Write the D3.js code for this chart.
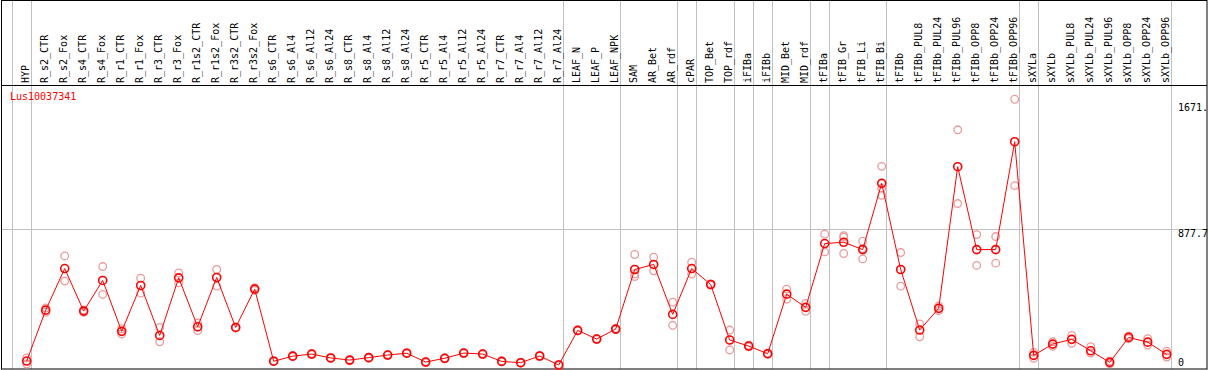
<!DOCTYPE html>
<html>
<head>
<meta charset="utf-8">
<script src="https://cdn.jsdelivr.net/npm/d3@7"></script>
<style>
    body { margin: 0; background: #fff; }
    text { font-family: "DejaVu Sans Mono", monospace; font-size: 10px; }
</style>
</head>
<body>
<div id="chart"></div>
<script>
// Sample names along the x axis
const categories = [
    "HYP", "R_s2_CTR", "R_s2_Fox", "R_s4_CTR", "R_s4_Fox", "R_r1_CTR", "R_r1_Fox",
    "R_r3_CTR", "R_r3_Fox", "R_r1s2_CTR", "R_r1s2_Fox", "R_r3s2_CTR", "R_r3s2_Fox",
    "R_s6_CTR", "R_s6_Al4", "R_s6_Al12", "R_s6_Al24", "R_s8_CTR", "R_s8_Al4", "R_s8_Al12",
    "R_s8_Al24", "R_r5_CTR", "R_r5_Al4", "R_r5_Al12", "R_r5_Al24", "R_r7_CTR", "R_r7_Al4",
    "R_r7_Al12", "R_r7_Al24", "LEAF_N", "LEAF_P", "LEAF_NPK", "SAM", "AR_Bet", "AR_rdf",
    "cPAR", "TOP_Bet", "TOP_rdf", "iFIBa", "iFIBb", "MID_Bet", "MID_rdf", "tFIBa",
    "tFIB_Gr", "tFIB_Li", "tFIB_Bi", "tFIBb", "tFIBb_PUL8", "tFIBb_PUL24", "tFIBb_PUL96",
    "tFIBb_OPP8", "tFIBb_OPP24", "tFIBb_OPP96", "sXYLa", "sXYLb", "sXYLb_PUL8",
    "sXYLb_PUL24", "sXYLb_PUL96", "sXYLb_OPP8", "sXYLb_OPP24", "sXYLb_OPP96"
];

// Mean expression per sample (the red line)
const meanValues = [
    67, 379, 634, 373, 561, 249, 530, 224, 577, 277, 579, 273, 508,
    66, 97, 110, 86, 73, 88, 104, 115, 61, 84, 116, 110, 65, 57, 98, 43,
    255, 202, 263, 628, 659, 353, 634, 536, 196, 159, 112, 477, 396,
    787, 795, 750, 1156, 628, 257, 390, 1258, 750, 750, 1411,
    102, 171, 200, 130, 59, 212, 183, 108
];

// Individual replicates (the faint circles)
const repValues = [
    [86, 49], [392, 366], [711, 557], [380, 366], [646, 475], [265, 233], [575, 483],
    [273, 185], [607, 546], [300, 254], [628, 526], [276, 270], [516, 500],
    [69, 63], [100, 94], [113, 107], [89, 83], [76, 70], [91, 85], [107, 101], [118, 112],
    [64, 58], [87, 81], [119, 113], [113, 107], [68, 62], [60, 54], [101, 95], [46, 40],
    [258, 252], [205, 199], [266, 260], [720, 600, 585], [703, 620], [428, 286],
    [673, 600], [540, 532], [257, 135], [164, 154], [116, 108], [508, 446], [420, 372],
    [844, 736], [835, 826, 726], [801, 756, 693], [1260, 1125, 1083], [732, 526],
    [294, 216], [404, 376], [1484, 1032], [842, 653], [830, 667], [1671, 1142],
    [120, 84], [185, 157], [224, 176], [155, 116], [68, 50], [220, 204], [204, 165], [128, 92]
];

// Last sample of each group; a grey separator is drawn after each
const groupEnds = [
    "HYP", "R_r7_Al24", "LEAF_NPK", "AR_rdf", "cPAR", "TOP_rdf", "iFIBa", "iFIBb",
    "MID_rdf", "tFIBa", "tFIB_Bi", "tFIBb_OPP96", "sXYLa", "sXYLb_OPP96"
];

// Right-hand value labels
const tickValues = [0, 877.7, 1671];
const tickLabels = ["0", "877.7", "1671."];
const gridValues = [877.7];
const yMax = 1755.4;

const geneName = "Lus10037341";

drawChart();

function drawChart() {
    const width = 1209;
    const height = 370;
    const headerBottom = 85.5;
    const plotBottom = 369;

    const svg = d3.select("#chart")
        .append("svg")
        .attr("width", width)
        .attr("height", height);

    // x positions of the samples
    const xScale = d3.scalePoint()
        .domain(categories)
        .range([26.7, 1166.7]);
    const step = xScale.step();

    // y scale, zero sits a little under the bottom frame
    const yScale = d3.scaleLinear()
        .domain([0, yMax])
        .range([372, headerBottom]);

    // Horizontal grid line(s)
    svg.selectAll(".hgrid")
        .data(gridValues)
        .enter()
        .append("line")
        .attr("class", "hgrid")
        .attr("x1", 1)
        .attr("x2", 1207)
        .attr("y1", d => Math.round(yScale(d)) + 0.5)
        .attr("y2", d => Math.round(yScale(d)) + 0.5)
        .attr("stroke", "#c0c0c0")
        .attr("stroke-width", 1);

    // Vertical group separators (run through the header too)
    const sepX = [xScale(categories[0]) - step + 4].concat(groupEnds.map(c => xScale(c) + 4));
    svg.selectAll(".vgrid")
        .data(sepX)
        .enter()
        .append("line")
        .attr("class", "vgrid")
        .attr("x1", d => Math.round(d) + 0.5)
        .attr("x2", d => Math.round(d) + 0.5)
        .attr("y1", 0)
        .attr("y2", plotBottom)
        .attr("stroke", "#c0c0c0")
        .attr("stroke-width", 1);

    // Frame + header divider
    svg.append("rect")
        .attr("x", 1.5)
        .attr("y", 0.5)
        .attr("width", 1205.5)
        .attr("height", plotBottom - 0.5)
        .attr("fill", "none")
        .attr("stroke", "#000")
        .attr("stroke-width", 1);

    svg.append("line")
        .attr("x1", 1)
        .attr("x2", 1207)
        .attr("y1", headerBottom)
        .attr("y2", headerBottom)
        .attr("stroke", "#000")
        .attr("stroke-width", 1);

    // Rotated sample names in the header
    svg.selectAll(".cat-label")
        .data(categories)
        .enter()
        .append("text")
        .attr("class", "cat-label")
        .attr("transform", d => `translate(${xScale(d) + 2.5},83) rotate(-90)`)
        .attr("text-anchor", "start")
        .attr("fill", "#000")
        .text(d => d);

    // Gene id in the top-left corner
    svg.append("text")
        .attr("x", 10)
        .attr("y", 100)
        .attr("fill", "#ff0000")
        .text(geneName);

    // Value labels on the right (hang under their value, kept inside the frame)
    svg.selectAll(".tick-label")
        .data(tickValues)
        .enter()
        .append("text")
        .attr("class", "tick-label")
        .attr("x", 1178)
        .attr("y", d => Math.max(111, Math.min(yScale(d) + 8, 366)))
        .attr("fill", "#000")
        .text((d, i) => tickLabels[i]);

    // Replicate circles
    const reps = [];
    repValues.forEach(function(vals, i) {
        vals.forEach(function(v) {
            reps.push({ cat: categories[i], value: v });
        });
    });

    svg.selectAll(".rep")
        .data(reps)
        .enter()
        .append("circle")
        .attr("class", "rep")
        .attr("cx", d => xScale(d.cat))
        .attr("cy", d => yScale(d.value))
        .attr("r", 3.8)
        .attr("fill", "none")
        .attr("stroke", "#ec9a9a")
        .attr("stroke-width", 1.3);

    // Mean line
    const meanData = categories.map((c, i) => ({ cat: c, value: meanValues[i] }));

    const line = d3.line()
        .x(d => xScale(d.cat))
        .y(d => yScale(d.value));

    svg.append("path")
        .datum(meanData)
        .attr("fill", "none")
        .attr("stroke", "#ff0000")
        .attr("stroke-width", 1)
        .attr("d", line);

    // Mean circles
    svg.selectAll(".dot")
        .data(meanData)
        .enter()
        .append("circle")
        .attr("class", "dot")
        .attr("cx", d => xScale(d.cat))
        .attr("cy", d => yScale(d.value))
        .attr("r", 4)
        .attr("fill", "none")
        .attr("stroke", "#ff0000")
        .attr("stroke-width", 1.6);
}
</script>
</body>
</html>
